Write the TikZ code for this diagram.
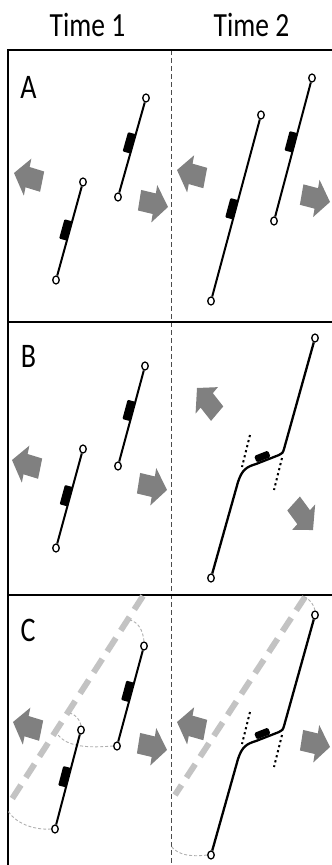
\documentclass[tikz,border=0pt]{standalone}
\usepackage{fontspec}
\setmainfont{Carlito}
\usepackage{graphicx}
\usetikzlibrary{shapes.geometric}
\definecolor{arrowgray}{RGB}{128,128,128}
\definecolor{faultgray}{RGB}{195,195,195}
\definecolor{tracegray}{RGB}{175,175,175}
\newcommand\fatarrow[3]{\fill[arrowgray, shift={(#1,#2)}, yscale=1.23, rotate=#3] (0,0) -- (-14,15.5) -- (-14,8.5) -- (-29,8.5) -- (-29,-8.5) -- (-14,-8.5) -- (-14,-15.5) -- cycle;}
\tikzset{
 endpt/.style={ellipse, draw, line width=1.3pt, fill=white, minimum width=6.5pt, minimum height=8pt, inner sep=0pt},
 seg/.style={line width=2pt},
 bent/.style={line width=2.3pt},
 blk/.style={rectangle, fill=black, minimum width=20pt, minimum height=8pt, inner sep=0pt, rounded corners=1pt, sloped, anchor=south, yshift=-1pt},
 mblk/.style={rectangle, fill=black, minimum width=15pt, minimum height=7pt, inner sep=0pt, rounded corners=1.5pt, sloped, anchor=south},
 dots/.style={line width=2pt, dash pattern=on 2.2pt off 3pt},
 fault/.style={line width=6pt, faultgray, dash pattern=on 16pt off 9pt},
 trace/.style={line width=0.9pt, tracegray, dash pattern=on 3pt off 2pt},
 frame/.style={line width=2pt},
 divider/.style={line width=0.8pt, dash pattern=on 5pt off 3pt, black!70},
 title/.style={font=\fontsize{27.5}{28}\selectfont, anchor=base, inner sep=0pt},
 letter/.style={font=\fontsize{28}{28}\selectfont, anchor=base, inner sep=0pt},
}
\begin{document}
\begin{tikzpicture}[x=1pt, y=-1pt, line join=round]
\useasboundingbox (0,0) rectangle (332,865);
\clip (0,0) rectangle (332,865);

% titles
\node[title] (t1) at (87.5,36.5) {\scalebox{1}[1.23]{Time 1}};
\node[title] (t2) at (251.5,36.5) {\scalebox{1}[1.23]{Time 2}};

% frame
\draw[divider] (171,50) -- (171,865);
\draw[frame] (8,50) -- (332,50);
\draw[frame, line width=2.5pt] (8,322) -- (332,322);
\draw[frame, line width=2.5pt] (8,595) -- (332,595);
\draw[frame] (8,49) -- (8,865);

% panel letters
\node[letter] (la) at (28.5,98) {\scalebox{1}[1.23]{A}};
\node[letter] (lb) at (28.5,367) {\scalebox{1}[1.23]{B}};
\node[letter] (lc) at (28,641) {\scalebox{1}[1.23]{C}};

% ---------- Panel A ----------
\fatarrow{14}{173}{166}
\fatarrow{168}{207}{-11}
\fatarrow{177}{170}{167}
\fatarrow{330}{202}{-12}

\node[endpt] (a1lb) at (56,280) {};
\node[endpt] (a1lt) at (83,182) {};
\node[endpt] (a1rb) at (118,197) {};
\node[endpt] (a1rt) at (146,98) {};
\draw[seg] (a1lb) -- node[blk, pos=0.5] (a1lk) {} (a1lt);
\draw[seg] (a1rb) -- node[blk, pos=0.54] (a1rk) {} (a1rt);

\node[endpt] (a2lb) at (211,301) {};
\node[endpt] (a2lt) at (261,115) {};
\node[endpt] (a2rb) at (274,221) {};
\node[endpt] (a2rt) at (312,78) {};
\draw[seg] (a2lb) -- node[blk, pos=0.49] (a2lk) {} (a2lt);
\draw[seg] (a2rb) -- node[blk, pos=0.55] (a2rk) {} (a2rt);

% ---------- Panel B ----------
\fatarrow{12}{460}{166}
\fatarrow{167}{490}{-11}
\fatarrow{197}{388}{134}
\fatarrow{313}{530}{-48}

\node[endpt] (b1lb) at (56,548) {};
\node[endpt] (b1lt) at (83,449) {};
\node[endpt] (b1rb) at (118,466) {};
\node[endpt] (b1rt) at (145,366) {};
\draw[seg] (b1lb) -- node[blk, pos=0.52] (b1lk) {} (b1lt);
\draw[seg] (b1rb) -- node[blk, pos=0.55] (b1rk) {} (b1rt);

\node[endpt] (b2b) at (211,578) {};
\node[endpt] (b2t) at (315,338) {};
\coordinate (b2d1a) at (250,435);
\coordinate (b2d1b) at (242,467);
\coordinate (b2d2a) at (282,458);
\coordinate (b2d2b) at (274,490);
\draw[dots] (b2d1a) -- (b2d1b);
\draw[dots] (b2d2a) -- (b2d2b);
\draw[bent] (b2b) -- (238,482) .. controls (242,470) and (246,467) .. (256,464)
  -- node[mblk, pos=0.35] (b2k) {} (279,455) .. controls (282,454) and (283,452.5) .. (284,449) -- (b2t);

% ---------- Panel C ----------
\draw[fault] (143,596) -- (10,802);
\draw[fault] (305,597) -- (175,795);

\fatarrow{13}{722}{166}
\fatarrow{167}{750}{-11}
\fatarrow{177}{722}{167}
\fatarrow{330}{747}{-11}

\node[endpt] (c1lb) at (55,829) {};
\node[endpt] (c1lt) at (81,730) {};
\node[endpt] (c1rb) at (117,746) {};
\node[endpt] (c1rt) at (144,646) {};
\draw[trace] (c1rt.north) .. controls (143,630) and (138,622) .. (130,620);
\draw[trace] (c1rb.west) .. controls (88,748) and (68,747) .. (58,735);
\draw[trace] (c1lt.north) .. controls (80,720) and (76,715) .. (70,713);
\draw[trace] (c1lb.west) .. controls (38,830) and (18,826) .. (8,811);
\draw[seg] (c1lb) -- node[blk, pos=0.52] (c1lk) {} (c1lt);
\draw[seg] (c1rb) -- node[blk, pos=0.54] (c1rk) {} (c1rt);

\node[endpt] (c2b) at (211,855) {};
\node[endpt] (c2t) at (315,615) {};
\draw[trace] (c2t.north) .. controls (314,605) and (310,599) .. (303,596);
\draw[trace] (c2b.west) .. controls (190,857) and (178,855) .. (171,846);
\coordinate (c2d1a) at (250,712);
\coordinate (c2d1b) at (242,744);
\coordinate (c2d2a) at (282,735);
\coordinate (c2d2b) at (274,767);
\draw[dots] (c2d1a) -- (c2d1b);
\draw[dots] (c2d2a) -- (c2d2b);
\draw[bent] (c2b) -- (238,759) .. controls (242,747) and (246,744) .. (256,741)
  -- node[mblk, pos=0.35] (c2k) {} (279,732) .. controls (282,731) and (283,729.5) .. (284,726) -- (c2t);
\end{tikzpicture}
\end{document}
